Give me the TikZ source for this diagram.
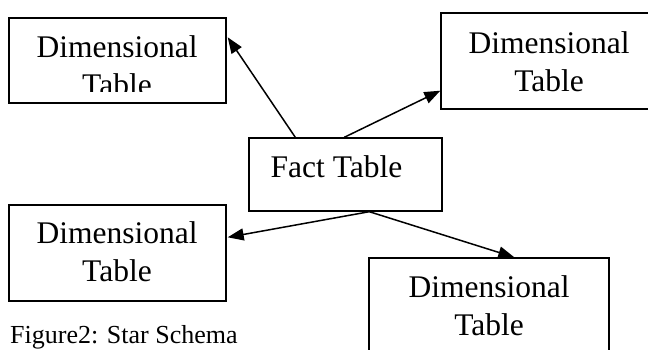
\documentclass[tikz,border=0pt]{standalone}
\usepackage{fontspec}
\setmainfont{Liberation Serif}
\usetikzlibrary{arrows.meta,calc}
\tikzset{
  box/.style={draw=black, line width=1.4pt, inner sep=0pt, fill=none},
  lbl/.style={inner sep=0pt, align=center, font=\fontsize{31.5}{38}\selectfont},
  link/.style={line width=1.5pt, -{Triangle[length=16pt,width=12pt]}},
}
\begin{document}
\begin{tikzpicture}[x=1pt,y=-1pt]
\clip (0,0) rectangle (648,350);
\fill[white] (0,0) rectangle (648,350);
% boxes
\node[box, minimum width=217, minimum height=85] (d1) at (117.5,60.5) {};
\node[box, minimum width=214, minimum height=96] (d2) at (548,61) {};
\node[box, minimum width=217, minimum height=96] (d3) at (117.5,253) {};
\node[box, minimum width=240, minimum height=102] (d4) at (489,309) {};
\node[box, minimum width=193, minimum height=73] (fact) at (345.5,174.5) {};
% labels
\node[lbl] (t1) at (117,65.3) {Dimensional\\Table};
\fill[white] (10.5,92) rectangle (224.5,102);
\node[lbl] (t2) at (549,61.3) {Dimensional\\Table};
\node[lbl] (t3) at (117,251.3) {Dimensional\\Table};
\node[lbl] (t4) at (489,305.3) {Dimensional\\Table};
\node[lbl, anchor=base] (tf) at (336.5,178) {Fact Table};
\node[inner sep=0pt, anchor=base west, font=\fontsize{26}{30}\selectfont] (cap) at (10,343) {Figure2: Star Schema};
% connectors
\coordinate (f1) at ($(fact.north west)+(47,0)$);
\coordinate (f2) at ($(fact.north west)+(96,0)$);
\coordinate (f3) at ($(fact.south west)+(121,0)$);
\draw[link] (f1) -- ($(d1.north east)+(1,20)$);
\draw[link] (f2) -- ($(d2.south west)+(0,-19)$);
\draw[link] (f3) -- ($(d3.north east)+(1,33)$);
\draw[link] (f3) -- ($(d4.north west)+(146,0)$);
\end{tikzpicture}
\end{document}
